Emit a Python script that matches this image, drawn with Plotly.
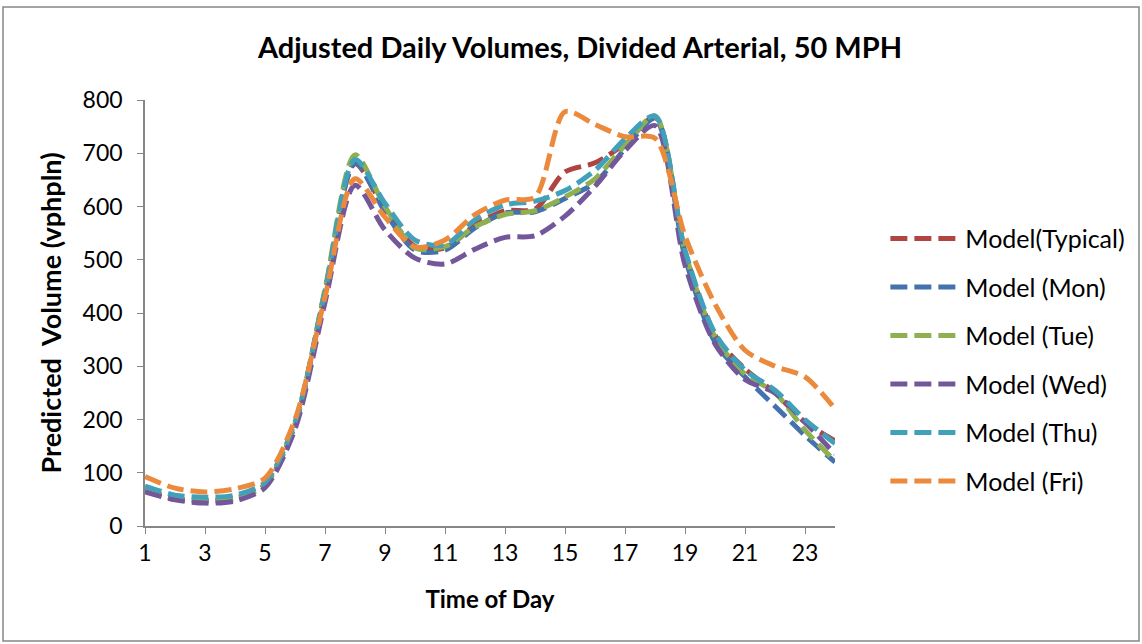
import plotly.graph_objects as go

hours = list(range(1, 25))

typical = [68, 52, 48, 52, 78, 190, 440, 680, 595, 525, 522, 565, 592, 595, 665, 682, 718, 768, 515, 358, 295, 250, 195, 160]
mon = [66, 50, 47, 50, 77, 190, 440, 682, 590, 518, 518, 560, 588, 590, 615, 645, 708, 765, 505, 345, 280, 225, 170, 120]
tue = [66, 51, 48, 52, 78, 192, 445, 697, 600, 522, 525, 562, 585, 592, 618, 652, 715, 770, 515, 355, 285, 250, 180, 122]
wed = [64, 49, 43, 47, 72, 182, 420, 640, 556, 503, 492, 520, 542, 545, 582, 638, 705, 752, 490, 342, 275, 250, 195, 135]
thu = [75, 58, 54, 58, 82, 195, 440, 688, 606, 537, 528, 575, 603, 610, 630, 668, 727, 770, 518, 362, 293, 255, 200, 155]
fri = [93, 71, 64, 70, 90, 200, 430, 652, 580, 524, 537, 585, 612, 618, 778, 754, 731, 728, 545, 417, 330, 300, 280, 220]

names = ["Model(Typical)", "Model (Mon)", "Model (Tue)", "Model (Wed)", "Model (Thu)", "Model (Fri)"]
series = [typical, mon, tue, wed, thu, fri]
colors = ["#B04440", "#4372AE", "#8FB050", "#73579A", "#41A0BA", "#EB8A3C"]

x_ticks = list(range(1, 24, 2))
y_ticks = list(range(0, 801, 100))

fig = go.Figure()

for i in range(len(names)):
    fig.add_trace(go.Scatter(
        x=hours,
        y=series[i],
        mode="lines",
        name=names[i],
        legendgroup=names[i],
        line=dict(color=colors[i], width=5, dash="17px,7px", shape="spline", smoothing=0.8),
    ))

font_family = "Lato, 'Open Sans', sans-serif"
axis_grey = "#868686"

fig.update_layout(
    width=1142,
    height=644,
    plot_bgcolor="white",
    paper_bgcolor="white",
    font=dict(family=font_family, size=23, color="black"),
    margin=dict(l=145, r=307, t=100, b=118),
    title=dict(
        text="<b>Adjusted Daily Volumes, Divided Arterial, 50 MPH</b>",
        x=580 / 1142, xanchor="center", xref="container",
        y=1 - 48 / 644, yanchor="middle", yref="container",
        font=dict(size=29, family=font_family, color="black"),
    ),
    showlegend=True,
    legend=dict(
        x=1.073, xanchor="left",
        y=0.39, yanchor="middle",
        traceorder="grouped",
        tracegroupgap=13,
        itemwidth=70,
        font=dict(size=25),
        bgcolor="rgba(0,0,0,0)",
    ),
    shapes=[dict(
        type="rect", xref="paper", yref="paper",
        x0=(3 - 145) / 690, x1=(1139 - 145) / 690,
        y0=(526 - 641) / 426, y1=(526 - 7) / 426,
        line=dict(color=axis_grey, width=1.5),
    )],
)

fig.update_xaxes(
    range=[1, 24],
    tickvals=x_ticks,
    ticks="outside",
    ticklen=6,
    tickcolor=axis_grey,
    showline=True,
    linecolor=axis_grey,
    linewidth=1.5,
    showgrid=False,
    zeroline=False,
    title=dict(text="<b>Time of Day</b>", font=dict(size=24), standoff=26),
)

fig.update_yaxes(
    range=[0, 800],
    tickvals=y_ticks,
    ticks="outside",
    ticklen=6,
    ticklabelstandoff=10,
    tickcolor=axis_grey,
    showline=True,
    linecolor=axis_grey,
    linewidth=1.5,
    showgrid=False,
    zeroline=False,
    title=dict(text="<b>Predicted\u00a0 Volume (vphpln)</b>", font=dict(size=27), standoff=13),
)

# drop the default 8px page margin so the figure sits at the window corner
fig.write_html(
    "out.html",
    config={"displayModeBar": False},
    post_script="document.body.style.margin='0';",
)
